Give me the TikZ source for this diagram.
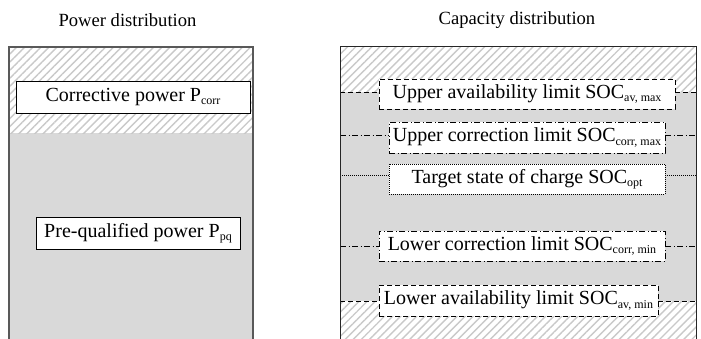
\documentclass[tikz,border=0pt]{standalone}
\usepackage{fontspec}
\setmainfont{Liberation Serif}
\usetikzlibrary{patterns.meta}
\newcommand\subt[1]{\raisebox{-0.35ex}{\fontsize{12}{12}\selectfont #1}}
\begin{document}
\begin{tikzpicture}[x=1pt,y=1pt,
  hatch/.style={pattern={Lines[angle=45,distance=5.7pt,line width=1.4pt]},pattern color=black!21},
  graybg/.style={fill=black!15},
  frameL/.style={draw=black!65,line width=1.2pt},
  frameR/.style={draw=black!85,line width=1pt},
  title/.style={font=\fontsize{18.6}{22}\selectfont,inner sep=0pt},
  boxtext/.style={fill=white,inner sep=0pt,font=\fontsize{20}{24}\selectfont,align=center},
  solidbox/.style={boxtext,draw=black,line width=0.8pt},
  dashbox/.style={boxtext,draw=black,line width=0.8pt,dash pattern=on 5pt off 3pt},
  dashdotbox/.style={boxtext,draw=black,line width=0.8pt,dash pattern=on 6pt off 2.5pt on 1pt off 2.5pt},
  dotbox/.style={boxtext,draw=black,line width=0.8pt,dash pattern=on 1pt off 1pt},
  dashline/.style={draw=black,line width=0.8pt,dash pattern=on 5pt off 3pt},
  dashdotline/.style={draw=black,line width=0.8pt,dash pattern=on 6pt off 2.5pt on 1pt off 2.5pt},
  dotline/.style={draw=black,line width=0.8pt,dash pattern=on 1pt off 1pt}
]
\useasboundingbox (0,0) rectangle (701,338);
\fill[white] (0,0) rectangle (701,338);

% titles
\node[title] (tP) at (127.5,318) {Power distribution};
\node[title] (tC) at (517,318) {Capacity distribution};

% left column backgrounds
\fill[graybg] (9,-5) rectangle (253,205);
\fill[white] (9,205) rectangle (253,291);
\fill[hatch] (9,205) rectangle (253,291);
\draw[frameL] (9,-5) -- (9,291) -- (253,291) -- (253,-5);

% right column backgrounds
\fill[graybg] (340,37) rectangle (696,246);
\fill[white] (340,246) rectangle (696,291);
\fill[hatch] (340,246) rectangle (696,291);
\fill[white] (340,-5) rectangle (696,37);
\fill[hatch] (340,-5) rectangle (696,37);

% levels lines
\coordinate (uavL) at (340,246); \coordinate (uavR) at (696,246);
\coordinate (ucL) at (340,203); \coordinate (ucR) at (696,203);
\coordinate (tgL) at (340,163); \coordinate (tgR) at (696,163);
\coordinate (lcL) at (340,92); \coordinate (lcR) at (696,92);
\coordinate (lavL) at (340,37); \coordinate (lavR) at (696,37);

% left boxes
\node[solidbox,minimum width=234pt,minimum height=32pt] (corr) at (133,241) {Corrective power P\subt{corr}};
\node[solidbox,minimum width=204pt,minimum height=32pt] (pq) at (138,105) {Pre-qualified power P\subt{pq}};

% right boxes
\node[dashbox,minimum width=296pt,minimum height=30pt] (uav) at (527,244) {Upper availability limit SOC\subt{av, max}};
\node[dashdotbox,minimum width=276pt,minimum height=31pt] (uc) at (527,200.5) {Upper correction limit SOC\subt{corr, max}};
\node[dotbox,minimum width=276pt,minimum height=30pt] (tg) at (527,159) {Target state of charge SOC\subt{opt}};
\node[dashdotbox,minimum width=286pt,minimum height=30pt] (lc) at (522,92) {Lower correction limit SOC\subt{corr, min}};
\node[dashbox,minimum width=279pt,minimum height=31pt] (lav) at (518.5,37.5) {Lower availability limit SOC\subt{av, min}};

\draw[dashline] (uavL) -- (uavL -| uav.west);
\draw[dashline] (uavR -| uav.east) -- (uavR);
\draw[dashdotline] (ucL) -- (ucL -| uc.west);
\draw[dashdotline] (ucR -| uc.east) -- (ucR);
\draw[dotline] (tgL) -- (tgL -| tg.west);
\draw[dotline] (tgR -| tg.east) -- (tgR);
\draw[dashdotline] (lcL) -- (lcL -| lc.west);
\draw[dashdotline] (lcR -| lc.east) -- (lcR);
\draw[dashline] (lavL) -- (lavL -| lav.west);
\draw[dashline] (lavR -| lav.east) -- (lavR);

\draw[frameR] (340,-5) -- (340,291) -- (696,291) -- (696,-5);
\end{tikzpicture}
\end{document}
